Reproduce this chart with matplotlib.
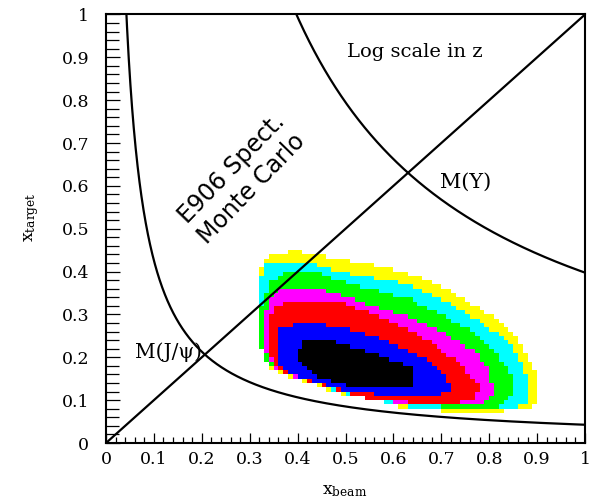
import matplotlib
matplotlib.use("Agg")
import matplotlib.pyplot as plt
import numpy as np
from matplotlib.path import Path
from matplotlib.colors import ListedColormap, BoundaryNorm
from matplotlib.ticker import MultipleLocator, FuncFormatter

# mass curves: x_beam * x_target = M^2 / s
s = 225.1
m_jpsi = 3.097
m_upsilon = 9.46

# histogram contour levels (log z), outermost first
level_colors = ['#ffff00', '#00ffff', '#00ff00', '#ff00ff', '#ff0000', '#0000ff', '#000000']

lev1 = [(0.322, 0.40), (0.34, 0.44), (0.40, 0.447), (0.56, 0.415), (0.63, 0.397), (0.70, 0.364),
        (0.77, 0.322), (0.82, 0.287), (0.86, 0.24), (0.88, 0.194), (0.90, 0.16), (0.905, 0.10),
        (0.885, 0.08), (0.77, 0.07), (0.63, 0.08), (0.56, 0.10), (0.49, 0.115), (0.44, 0.135),
        (0.37, 0.16), (0.34, 0.175), (0.33, 0.21), (0.32, 0.26), (0.315, 0.34)]
lev2 = [(0.315, 0.34), (0.33, 0.42), (0.40, 0.425), (0.49, 0.40), (0.63, 0.37), (0.70, 0.335),
        (0.77, 0.29), (0.84, 0.24), (0.865, 0.19), (0.88, 0.14), (0.875, 0.09), (0.85, 0.08),
        (0.77, 0.075), (0.63, 0.085), (0.56, 0.10), (0.49, 0.118), (0.44, 0.137), (0.37, 0.162),
        (0.34, 0.18), (0.33, 0.21), (0.32, 0.26)]
lev3 = [(0.32, 0.30), (0.34, 0.37), (0.37, 0.40), (0.44, 0.40), (0.49, 0.377), (0.63, 0.338),
        (0.70, 0.30), (0.77, 0.257), (0.82, 0.20), (0.845, 0.16), (0.85, 0.11), (0.82, 0.085),
        (0.77, 0.08), (0.63, 0.09), (0.56, 0.10), (0.49, 0.12), (0.44, 0.138), (0.37, 0.163),
        (0.34, 0.18), (0.325, 0.22)]
lev4 = [(0.33, 0.30), (0.345, 0.34), (0.37, 0.365), (0.44, 0.36), (0.49, 0.345), (0.63, 0.294),
        (0.70, 0.26), (0.77, 0.215), (0.80, 0.17), (0.81, 0.12), (0.79, 0.09), (0.72, 0.085),
        (0.63, 0.09), (0.56, 0.10), (0.49, 0.12), (0.44, 0.138), (0.38, 0.16), (0.35, 0.175),
        (0.335, 0.21)]
lev5 = [(0.335, 0.27), (0.35, 0.32), (0.39, 0.33), (0.44, 0.335), (0.49, 0.327), (0.56, 0.30),
        (0.63, 0.265), (0.68, 0.235), (0.72, 0.20), (0.755, 0.165), (0.78, 0.13), (0.77, 0.10),
        (0.72, 0.09), (0.63, 0.095), (0.56, 0.10), (0.49, 0.12), (0.44, 0.14), (0.38, 0.16),
        (0.35, 0.18), (0.34, 0.22)]
lev6 = [(0.355, 0.21), (0.36, 0.265), (0.40, 0.28), (0.44, 0.28), (0.51, 0.265), (0.58, 0.24),
        (0.63, 0.217), (0.68, 0.19), (0.71, 0.15), (0.72, 0.125), (0.69, 0.11), (0.63, 0.11),
        (0.56, 0.115), (0.49, 0.125), (0.44, 0.14), (0.40, 0.155), (0.37, 0.17)]
lev7 = [(0.40, 0.20), (0.41, 0.235), (0.46, 0.24), (0.51, 0.225), (0.58, 0.20), (0.635, 0.178),
        (0.645, 0.15), (0.64, 0.125), (0.58, 0.13), (0.50, 0.135), (0.45, 0.15), (0.42, 0.17)]
levels = [lev1, lev2, lev3, lev4, lev5, lev6, lev7]

edges = np.linspace(0, 1, 101)
centers = 0.5 * (edges[:-1] + edges[1:])
cx, cy = np.meshgrid(centers, centers)
pts = np.column_stack([cx.ravel(), cy.ravel()])
z = np.zeros(len(pts))
for i, poly in enumerate(levels):
    inside = Path(poly).contains_points(pts)
    z[inside] = i + 1
z = np.ma.masked_equal(z.reshape(cx.shape), 0)

fig = plt.figure(figsize=(5.9, 4.98), dpi=100)
ax = fig.add_axes([106 / 590, 55 / 498, 479 / 590, 428.5 / 498])

cmap = ListedColormap(level_colors)
norm = BoundaryNorm(np.arange(0.5, 8.5, 1), cmap.N)
ax.pcolormesh(edges, edges, z, cmap=cmap, norm=norm, zorder=1)

xs = np.linspace(0.001, 1, 2000)
ax.plot(xs, m_jpsi ** 2 / s / xs, color='black', lw=1.6, zorder=3)
ax.plot(xs, m_upsilon ** 2 / s / xs, color='black', lw=1.6, zorder=3)
ax.plot([0, 1], [0, 1], color='black', lw=1.6, zorder=3)

ax.set_xlim(0, 1)
ax.set_ylim(0, 1)
for sp in ax.spines.values():
    sp.set_linewidth(1.5)

fmt = FuncFormatter(lambda v, p: '%g' % round(v, 2))
ax.xaxis.set_major_locator(MultipleLocator(0.1))
ax.xaxis.set_minor_locator(MultipleLocator(0.02))
ax.yaxis.set_major_locator(MultipleLocator(0.1))
ax.yaxis.set_minor_locator(MultipleLocator(0.02))
ax.xaxis.set_major_formatter(fmt)
ax.yaxis.set_major_formatter(fmt)
ax.tick_params(which='both', direction='in', top=False, right=False, width=0.9)
ax.tick_params(axis='x', which='major', length=7, pad=6)
ax.tick_params(axis='x', which='minor', length=4)
ax.tick_params(axis='y', which='major', length=10, pad=12)
ax.tick_params(axis='y', which='minor', length=9)
for lab in ax.get_xticklabels() + ax.get_yticklabels():
    lab.set_fontfamily('DejaVu Serif')
    lab.set_fontsize(12.5)

plt.rcParams['mathtext.fontset'] = 'dejavuserif'
fig.text(345 / 590, 1 - 490 / 498, r'$\mathrm{x_{beam}}$', ha='center', va='center', fontsize=12.5)
fig.text(32 / 590, 1 - 217 / 498, r'$\mathrm{x_{target}}$', ha='center', va='center',
         rotation=90, fontsize=12.5)

ax.text(0.645, 0.912, 'Log scale in z', family='DejaVu Serif', fontsize=14, ha='center', va='center')
ax.text(0.697, 0.609, 'M(\u03a5)', family='DejaVu Serif', fontsize=15, ha='left', va='center')
ax.text(0.0605, 0.212, 'M(J/\u03c8)', family='DejaVu Serif', fontsize=14.5, ha='left', va='center')
ax.text(0.283, 0.616, 'E906 Spect.\nMonte Carlo', family='DejaVu Sans', fontsize=17,
        rotation=46, ha='center', va='center', multialignment='center', linespacing=1.25)

fig.savefig('out.png', dpi=100)
